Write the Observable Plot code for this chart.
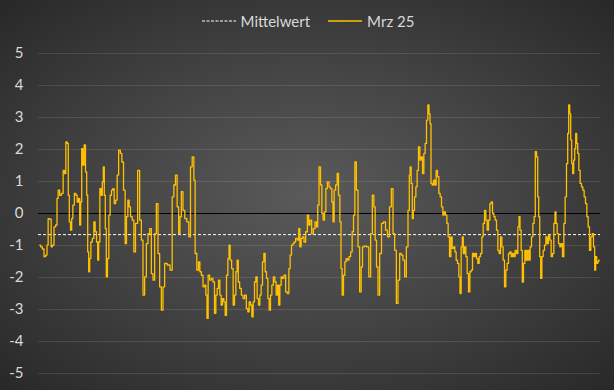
<!DOCTYPE html>
<html>
<head>
<meta charset="utf-8">
<script src="https://cdn.jsdelivr.net/npm/d3@7"></script>
<script src="https://cdn.jsdelivr.net/npm/@observablehq/plot@0.6"></script>
<style>
  html, body { margin: 0; padding: 0; }
  #chart {
    width: 614px; height: 390px; overflow: hidden;
    background: radial-gradient(ellipse farthest-corner at 50% 50%, #5a5a5a 0%, #454545 45%, #282828 100%);
    font-family: Lato, "Open Sans", sans-serif;
    color: #d9d9d9;
  }
  #legend {
    height: 40px; display: flex; justify-content: center; align-items: center;
    font-size: 15px; gap: 18px; padding-left: 2px; box-sizing: border-box; padding-top: 2px;
  }
  .item { display: flex; align-items: center; gap: 5px; }
  svg.sw { display: block; }
</style>
</head>
<body>
<div id="chart">
  <div id="legend"></div>
  <div id="plot"></div>
</div>
<script>
const seriesNames = ["Mittelwert", "Mrz 25"];
const mittelwert = -0.66;
const yTicks = [-5, -4, -3, -2, -1, 0, 1, 2, 3, 4, 5];

const tag = [
0.3,2,3.7,5.3,7,8,9.3,11,12.3,13.7,15.3,17,18,19.3,21,23,24.3,25.7,27,28.3,29.3,30.3,31.7,32.7,34,35.7,37,38.3,39.7,40.7,41.7,42.7,44,45.3,46.7,47.7,48.7,49.7,50.7,52,53.7,55,56.3,57.7,58.7,59.7,61,62.3,63.3,64.3,65.3,66.3,67.3,68.7,70,71.3,72.7,74,75.3,77,78.3,
80,81.7,83,85,86.3,87.7,89,90.3,91.7,93.7,95,97,99.3,101,102.7,104.3,106,107.7,109.3,111,112.7,114.3,116,117.7,119.3,121,122.7,124.3,126,129.3,131.7,133.7,135,137,138.3,140,141,142.7,144.3,146.3,148.3,150.3,151.7,153.7,155,156.3,158.3,
159.7,161,162.7,164.3,165.7,167,168,169.3,171,172.7,174.3,175.7,177,178.3,179.7,181,182.3,183.7,185,186.3,187.7,189,190,191.3,193,194.3,195.7,197,198.3,199.3,201,202.7,204.3,206,207.7,209,210.3,211.7,213,214.3,215.7,217,218.3,219.7,221,222.3,223.7,225,226.3,227.7,229,230.3,231.7,233,234.7,236,237.3,238.7,
239.7,241,242.3,243.7,245.3,247,248.7,250,251.3,252.7,254,255.3,257,258.7,259.7,261,262.3,263.7,265.3,267,268.7,269.7,271.3,273,274.7,276.3,277.7,278.7,280.3,281.7,283,284.3,285.7,287,288.7,290.3,291.7,293,294,295.3,297,298.3,299.7,301,302,303.3,304.7,306,307.3,308.7,310.3,312,313.3,314.7,316,
317.7,319.3,321,322.3,323.7,326,328.3,330.3,332,333.7,335,336.3,337.7,339.3,341,343,345,347,349,351,352.7,354.3,356,357.7,359.3,361,362.7,364.3,366,367.7,369.3,370.3,
371,372.3,373.3,374.3,375.7,377,378.3,379.7,381,382.3,383.7,385,386.3,387.7,389,390,391,392,393.3,394.7,396,397.3,398.7,400,401.3,402.7,404,405.3,406.7,408,409.3,410.7,412,413.3,414.7,416,417.3,418.7,420,421,422.3,423.3,424.3,425.7,427,428.3,429.7,431,432.3,433.7,435,436.3,437.7,439,440.3,441.7,443,444.3,445.7,447,448.3,449.7,451,452.3,453.7,455,456.3,457.7,459,460.3,461.7,463,464.3,465.7,467,468.3,469.7,471,472.3,473.7,475,476.3,477.7,479,480,481,482.3,483.3,484.7,486,487.3,488.7,490,491.3,492.7,494,495.3,496.3,497.7,498.7,499.7,500.7,501.7,503,504.3,505.7,507,508.3,509.7,511,512.3,513.7,515,516,517,518.3,519.7,521,522.3,523.7,525,526.3,527.7,528.7,529.7,530.7,531.7,532.7,533.7,534.7,535.7,536.7,537.7,538.7,540,541.3,542.7,544,545.3,546.7,548,549.3,550.7,552,553.3,554.7,555.7,556.7,557.7,558.7,559.7
];

const wert = [
-0.99,-1.04,-1.11,-1.35,-1.3,-0.99,-0.16,-0.18,-1.04,-0.99,-0.42,-0.36,0.47,0.73,0.57,0.63,1.35,1.25,2.24,2.19,0.57,-0.26,-0.52,-0.16,0.26,0.63,0.57,0.36,0.47,-0.36,0.36,2.03,1.51,2.14,1.3,0.57,-1.2,-1.82,-1.41,-0.89,-0.78,-0.26,-0.57,-0.89,-1.46,-0.89,0.78,0.57,0.99,1.46,0.57,-0.47,-1.98,-1.41,-0.05,0.57,0.73,0.78,0.31,0.42,1.2,
1.98,1.88,1.61,0.73,-0.94,-0.1,0.42,0.21,-0.1,-0.21,-1.2,-0.31,1.35,-0.21,-0.83,-2.55,-1.98,-0.94,-0.63,-0.47,-1.88,-2.08,-0.63,0.31,-1.25,-2.29,-3.02,-2.29,-1.56,-1.61,-1.77,0.52,0.89,1.2,0.21,-0.63,-0.1,0.68,0.1,-0.16,-0.26,-0.73,1.46,1.77,1.04,-1.25,-1.77,
-1.51,-1.82,-1.93,-2.29,-2.24,-2.55,-3.28,-1.93,-2.08,-2.03,-2.14,-3.12,-2.55,-2.34,-2.08,-2.55,-2.86,-2.66,-2.76,-3.18,-1.93,-1.41,-0.99,-1.46,-1.72,-2.86,-2.55,-1.82,-1.46,-2.14,-2.34,-2.55,-2.66,-2.55,-2.97,-3.07,-2.76,-2.86,-3.23,-2.76,-2.14,-1.98,-2.66,-2.86,-2.55,-2.24,-1.51,-1.25,-1.82,-2.03,-2.66,-3.02,-2.55,-2.24,-1.98,-2.14,-2.55,-2.24,
-2.86,-2.24,-1.98,-2.03,-1.93,-2.45,-2.5,-1.72,-1.3,-0.99,-0.94,-0.89,-0.78,-0.83,-0.47,-1.04,-0.78,-0.73,-0.89,-0.57,-0.05,-0.36,-0.21,-0.63,-0.47,-0.26,-0.42,0.26,1.46,0.89,0,-0.21,0.05,0.78,0.99,0.83,0.78,0.36,-0.26,0.73,0.89,1.25,0.57,-0.26,-1.72,-2.55,-1.93,-1.51,-1.41,-1.46,-1.35,-1.2,-0.57,-0.05,1.61,
0.73,-1.04,-2.45,-1.67,-1.04,-1.02,-1.04,-1.98,-0.63,0.57,0.21,-0.83,-1.67,-2.55,-1.25,-0.31,-0.26,-0.52,-0.73,0.21,0.78,-0.63,-1.15,-2.81,-2.08,-1.25,-1.3,-1.46,-1.98,-1.04,0.1,1.2,
1.46,0.94,-0.16,0.1,0.52,0.83,1.35,2.08,1.67,1.77,1.25,1.88,2.19,2.92,3.39,3.12,2.81,0.94,0.89,1.04,0.89,1.35,1.15,0.63,0.52,0.21,-0.05,0.05,-0.05,-0.31,-0.73,-1.35,-0.73,-1.09,-1.04,-1.2,-1.46,-1.56,-1.98,-2.5,-1.04,-0.73,-1.25,-1.04,-1.35,-1.88,-2.45,-1.82,-1.77,-1.25,-1.35,-1.25,-1.41,-1.56,-1.35,-1.25,-0.73,-0.31,0.1,-0.21,-0.52,-0.21,0.31,0.36,0,-0.1,-0.21,-0.52,-1.15,-1.25,-0.73,-1.04,-1.46,-2.29,-1.77,-1.56,-1.25,-1.2,-1.35,-1.25,-1.35,-1.15,-1.25,-0.42,-0.1,-0.52,-1.15,-2.14,-1.56,-1.15,-1.46,-1.15,-1.46,-1.04,-0.73,-0.31,-0.1,1.93,1.77,0.52,-0.1,-1.35,-2.03,-1.35,-1.15,-0.99,-0.73,-0.94,-0.68,-0.83,-1.35,-1.25,-0.31,0.05,-0.31,-0.63,-0.94,-1.04,-0.94,-1.35,-0.31,0.52,1.56,2.5,3.39,3.12,2.29,1.56,1.25,1.67,2.03,2.5,2.19,1.88,1.35,0.94,0.83,0.73,0.52,0.31,-0.1,-0.42,-1.15,-0.73,-0.63,-1.04,-1.77,-1.35,-1.56,-1.51,-1.46
];

const data = tag.map((t, i) => ({tag: t, wert: wert[i]}));

// Legend
const legend = document.getElementById("legend");
function swatch(stroke, dash) {
  const ns = "http://www.w3.org/2000/svg";
  const s = document.createElementNS(ns, "svg");
  s.setAttribute("width", 34); s.setAttribute("height", 10); s.setAttribute("class", "sw");
  const l = document.createElementNS(ns, "line");
  l.setAttribute("x1", 0); l.setAttribute("x2", 34); l.setAttribute("y1", 5); l.setAttribute("y2", 5);
  l.setAttribute("stroke", stroke); l.setAttribute("stroke-width", dash ? 1 : 1.5);
  if (dash) l.setAttribute("stroke-dasharray", "3,1.5");
  s.appendChild(l);
  return s;
}
[[seriesNames[0], "#ffffff", true], [seriesNames[1], "#FFC000", false]].forEach(([name, c, d]) => {
  const it = document.createElement("div"); it.className = "item";
  it.appendChild(swatch(c, d));
  const sp = document.createElement("span"); sp.textContent = name;
  it.appendChild(sp);
  legend.appendChild(it);
});

const chart = Plot.plot({
  width: 614,
  height: 350,
  marginTop: 13,
  marginBottom: 17,
  marginLeft: 38,
  marginRight: 14,
  style: {background: "transparent", color: "#d9d9d9", fontFamily: "Lato, 'Open Sans', sans-serif", fontSize: "15px"},
  x: {domain: [-1, 561], axis: null},
  y: {domain: [-5, 5], ticks: yTicks, tickFormat: d => String(d), tickSize: 0, tickPadding: 15, label: null},
  marks: [
    Plot.ruleY(yTicks.filter(d => d !== 0), {stroke: "#ffffff", strokeWidth: 1, strokeOpacity: 0.11}),
    Plot.ruleY([0], {stroke: "#000000", strokeWidth: 1.2}),
    Plot.ruleY([mittelwert], {stroke: "#ffffff", strokeWidth: 1, strokeDasharray: "3,2"}),
    Plot.line(data, {x: "tag", y: "wert", stroke: "#FFC000", strokeWidth: 1.3, curve: "step"})
  ]
});
document.getElementById("plot").appendChild(chart);
</script>
</body>
</html>
